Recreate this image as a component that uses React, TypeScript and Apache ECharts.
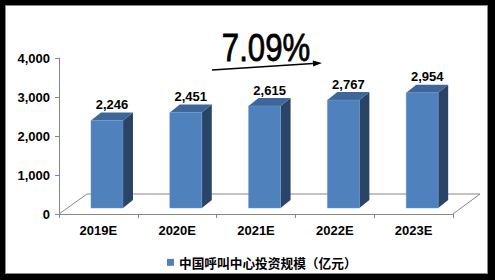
import React, { useEffect, useRef } from "react";
import * as echarts from "echarts";

const categories = ["2019E", "2020E", "2021E", "2022E", "2023E"];
const values = [2246, 2451, 2615, 2767, 2954];
const seriesName = "中国呼叫中心投资规模（亿元）";
const cagrLabel = "7.09%";
const yTicks = { min: 0, max: 4000, interval: 1000 };

const fmt = (v: number) => String(v).replace(/\B(?=(\d{3})+(?!\d))/g, ",");

export default function App() {
  const ref = useRef<HTMLDivElement>(null);
  useEffect(() => {
    document.body.style.margin = "0";
    const chart = echarts.init(ref.current!, null, { renderer: "svg" });
    const axisColor = "#868686";
    chart.setOption({
      animation: false,
      grid: { left: 54, right: 35, top: 53, bottom: 60 },
      xAxis: {
        type: "category",
        data: categories,
        axisLine: { lineStyle: { color: axisColor } },
        axisTick: { show: true, length: 4, lineStyle: { color: axisColor } },
        axisLabel: {
          color: "#000",
          fontFamily: "Arial",
          fontWeight: "bold",
          fontSize: 13,
          margin: 10,
        },
      },
      yAxis: {
        type: "value",
        min: yTicks.min,
        max: yTicks.max,
        interval: yTicks.interval,
        splitLine: { show: false },
        axisLine: { show: true, lineStyle: { color: axisColor } },
        axisTick: { show: true, length: 4, lineStyle: { color: axisColor } },
        axisLabel: {
          color: "#000",
          fontFamily: "Arial",
          fontWeight: "bold",
          fontSize: 13,
          margin: 9,
          formatter: (v: number) => fmt(v),
        },
      },
      legend: {
        left: 157,
        top: 246,
        itemWidth: 7,
        itemHeight: 7,
        icon: "rect",
        textStyle: {
          color: "#000",
          fontFamily: "Noto Sans CJK SC",
          fontWeight: "bold",
          fontSize: 12.7,
        },
        data: [seriesName],
      },
      graphic: [
        { type: "line", shape: { x1: 54, y1: 209, x2: 82, y2: 189 }, style: { stroke: axisColor, lineWidth: 1 } },
        { type: "line", shape: { x1: 82, y1: 189, x2: 475, y2: 189 }, style: { stroke: axisColor, lineWidth: 1 } },
        { type: "line", shape: { x1: 475, y1: 189, x2: 448, y2: 209 }, style: { stroke: axisColor, lineWidth: 1 } },
        {
          type: "text",
          x: 261,
          y: 43,
          scaleX: 0.82,
          style: {
            text: cagrLabel,
            fontFamily: "Arial",
            fontSize: 38,
            fill: "#000",
            stroke: "#000",
            lineWidth: 0.8,
            textAlign: "center",
            textVerticalAlign: "middle",
          },
        },
        { type: "line", shape: { x1: 207, y1: 65, x2: 308, y2: 58.6 }, style: { stroke: "#000", lineWidth: 1.5 } },
        { type: "polygon", shape: { points: [[317, 58], [308.2, 61.6], [307.8, 55.6]] }, style: { fill: "#000" } },
      ],
      series: [
        {
          type: "custom",
          name: seriesName,
          itemStyle: { color: "#4F81BD" },
          data: values.map((v, i) => [i, v]),
          renderItem: (params: any, api: any) => {
            const idx = api.value(0);
            const val = api.value(1);
            const base = api.coord([idx, 0]);
            const top = api.coord([idx, val]);
            const band = api.size([1, 0])[0];
            const w = band * 0.406;
            const cx = base[0] + band * 0.109;
            const left = cx - w / 2;
            const right = cx + w / 2;
            const lift = 6;
            const yb = base[1] - lift;
            const yt = top[1] - lift;
            const dx = 10;
            const dy = 8;
            return {
              type: "group",
              children: [
                {
                  type: "polygon",
                  shape: { points: [[right, yt], [right + dx, yt - dy], [right + dx, yb - dy], [right, yb]] },
                  style: { fill: "#2A4468" },
                },
                {
                  type: "polygon",
                  shape: { points: [[left, yt], [left + dx, yt - dy], [right + dx, yt - dy], [right, yt]] },
                  style: { fill: "#3D6699" },
                },
                {
                  type: "rect",
                  shape: { x: left, y: yt, width: w, height: yb - yt },
                  style: { fill: "#4F81BD", stroke: "#6F97C8", lineWidth: 0.5 },
                },
                {
                  type: "text",
                  x: (left + right + dx) / 2,
                  y: yt - dy - 8,
                  style: {
                    text: fmt(val),
                    fontFamily: "Arial",
                    fontWeight: "bold",
                    fontSize: 13,
                    fill: "#000",
                    textAlign: "center",
                    textVerticalAlign: "middle",
                  },
                },
              ],
            };
          },
        },
      ],
    });
    return () => chart.dispose();
  }, []);
  return (
    <div style={{ position: "relative", width: 495, height: 280, background: "#000" }}>
      <div
        ref={ref}
        style={{
          position: "absolute",
          left: 5,
          top: 5,
          width: 483,
          height: 269,
          background: "#fff",
          boxShadow: "inset 0 0 0 1px #8a8a8a",
        }}
      />
    </div>
  );
}
